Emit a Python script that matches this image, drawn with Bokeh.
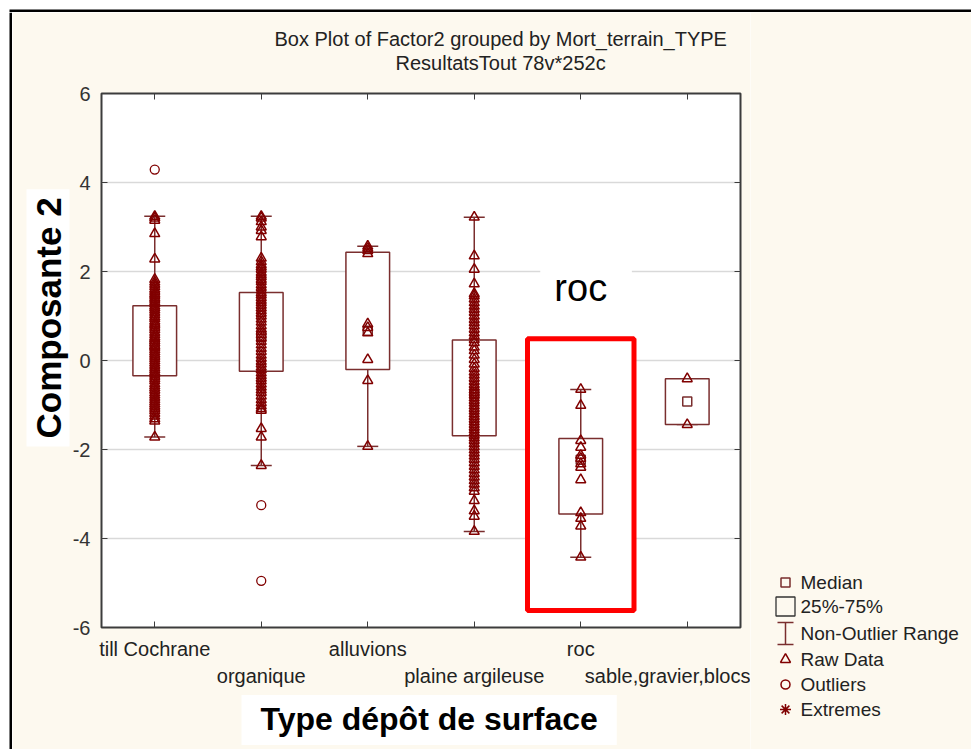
from bokeh.plotting import figure
from bokeh.models import (Range1d, FixedTicker, LinearAxis, Label, Title, ColumnDataSource)
from bokeh.layouts import row, column
from bokeh.core.properties import value
from bokeh.embed import file_html
from bokeh.resources import INLINE

# ---- data -------------------------------------------------------------
cats = ["till Cochrane", "organique", "alluvions", "plaine argileuse", "roc", "sable,gravier,blocs"]
q1 = [-0.34, -0.24, -0.20, -1.69, -3.45, -1.44]
q3 = [1.23, 1.53, 2.43, 0.46, -1.75, -0.41]
med = [0.35, 0.55, 0.67, -0.75, -2.23, -0.92]
whisk_lo = [-1.72, -2.36, -1.93, -3.84, -4.42, -1.44]
whisk_hi = [3.24, 3.24, 2.57, 3.22, -0.65, -0.41]

raw_till = [3.24, 3.2, 3.15, 2.85, 2.28, 1.82, 1.76, 1.71, 1.66, 1.6, 1.55, 1.5, 1.46, 1.41, 1.37,
            1.32, 1.27, 1.22, 1.18, 1.13, 1.08, 1.03, 0.98, 0.94, 0.88, 0.83, 0.79, 0.74, 0.69,
            0.63, 0.58, 0.53, 0.49, 0.44, 0.39, 0.33, 0.29, 0.24, 0.19, 0.14, 0.09, 0.04, -0.01,
            -0.06, -0.11, -0.16, -0.21, -0.26, -0.31, -0.36, -0.41, -0.46, -0.52, -0.57, -0.62,
            -0.67, -0.73, -0.78, -0.83, -0.88, -0.93, -0.98, -1.03, -1.08, -1.13, -1.19, -1.25,
            -1.31, -1.36, -1.72]
raw_organique = [3.24, 3.2, 3.12, 3.0, 2.92, 2.78, 2.3, 2.22, 2.15, 2.1, 2.05, 1.98, 1.93, 1.88,
                 1.82, 1.77, 1.7, 1.64, 1.58, 1.52, 1.47, 1.41, 1.35, 1.3, 1.24, 1.18, 1.12, 1.06,
                 1.0, 0.93, 0.86, 0.78, 0.71, 0.65, 0.58, 0.5, 0.43, 0.35, 0.27, 0.2, 0.12, 0.05,
                 -0.02, -0.08, -0.15, -0.21, -0.28, -0.34, -0.4, -0.46, -0.53, -0.6, -0.66, -0.72,
                 -0.8, -0.88, -0.95, -1.02, -1.08, -1.12, -1.53, -1.72, -2.36]
raw_alluvions = [2.57, 2.52, 2.47, 2.4, 0.82, 0.74, 0.62, 0.02, -0.45, -1.93]
raw_plaine = [3.22, 2.35, 2.05, 1.72, 1.5, 1.45, 1.38, 1.3, 1.22, 1.15, 1.08, 1.0, 0.92, 0.85,
              0.78, 0.7, 0.62, 0.55, 0.47, 0.4, 0.3, 0.22, 0.12, 0.02, -0.08, -0.18, -0.26, -0.33,
              -0.4, -0.47, -0.54, -0.6, -0.66, -0.72, -0.78, -0.84, -0.9, -0.96, -1.02, -1.08,
              -1.14, -1.2, -1.26, -1.32, -1.38, -1.44, -1.5, -1.56, -1.62, -1.68, -1.74, -1.8,
              -1.87, -1.94, -2.01, -2.08, -2.15, -2.22, -2.3, -2.38, -2.46, -2.54, -2.62, -2.7,
              -2.78, -2.86, -2.94, -3.15, -3.38, -3.5, -3.84]
raw_roc = [-0.65, -1.01, -1.8, -1.95, -2.13, -2.2, -2.32, -2.4, -2.68, -3.42, -3.55, -3.72, -4.42]
raw_sable = [-0.41, -1.44]
raw_values = [raw_till, raw_organique, raw_alluvions, raw_plaine, raw_roc, raw_sable]

outlier_group = [0, 1, 1]
outlier_vals = [4.29, -3.25, -4.95]

y_ticks = [-6, -4, -2, 0, 2, 4, 6]
legend_labels = ["Median", "25%-75%", "Non-Outlier Range", "Raw Data", "Outliers", "Extremes"]

# group centres on the x scale (one unit per group)
xpos = [i + 0.5 for i in range(len(cats))]

# ---- styling ------------------------------------------------------------
CREAM = "#fdf9ef"
MAROON = "#800000"
BOXLINE = "#7a2e2e"
FRAME = "#3c3c3c"
SANS = "'Liberation Sans', Arial, sans-serif"
TXT = "#222222"

# ---- main plot ------------------------------------------------------------
p = figure(width=738, height=737, x_range=Range1d(0, len(cats)), y_range=Range1d(-6, 6),
           output_backend="svg", toolbar_location=None,
           title_location=None, x_axis_location=None, y_axis_location=None,
           min_border_left=85, min_border_right=10, min_border_top=81, min_border_bottom=122)
p.frame_align = False
p.background_fill_color = "white"
p.border_fill_color = CREAM
p.outline_line_color = FRAME
p.outline_line_width = 2

p.xgrid.visible = False
p.ygrid.ticker = FixedTicker(ticks=[-4, -2, 0, 2, 4])
p.ygrid.grid_line_color = "#d9d9d9"
p.ygrid.grid_line_width = 1.5

tick_style = dict(major_tick_in=6, major_tick_out=0, minor_tick_line_color=None,
                  axis_line_color=FRAME, major_tick_line_color=FRAME, axis_label_standoff=0)

# left axis with hyphen-minus labels
yax = LinearAxis(ticker=FixedTicker(ticks=y_ticks),
                 major_label_overrides={t: str(t) for t in y_ticks},
                 major_label_text_font=SANS, major_label_text_font_size="20px",
                 major_label_text_color="#333333", major_label_standoff=11, **tick_style)
p.add_layout(yax, "left")
p.add_layout(Title(text="Composante 2", align="left", offset=181, standoff=0,
                   text_font=SANS, text_font_style="bold", text_font_size="35px",
                   text_color="black", background_fill_color="white",
                   padding=dict(left=8, right=8, top=2, bottom=2)), "left")

# right axis: ticks only
p.add_layout(LinearAxis(ticker=FixedTicker(ticks=y_ticks), major_label_text_font_size="0px",
                        major_label_standoff=0, **tick_style), "right")

# bottom: group names, every other one dropped to a second line
xlabels = {x: ("\n" + c if i % 2 else c) for i, (x, c) in enumerate(zip(xpos, cats))}
xax = LinearAxis(ticker=FixedTicker(ticks=xpos), major_label_overrides=xlabels,
                 major_label_text_font=SANS, major_label_text_font_size="20px",
                 major_label_text_color=TXT, major_label_standoff=10,
                 major_label_text_line_height=1.25, **tick_style)
p.add_layout(xax, "below")
p.add_layout(Title(text="Type dépôt de surface", align="left", offset=140, standoff=5,
                   text_font=SANS, text_font_style="bold", text_font_size="32px",
                   text_color="black", background_fill_color="white",
                   padding=dict(left=19, right=19, top=6, bottom=8)), "below")

# top: ticks only (blank labels keep some room), then the two title lines
p.add_layout(LinearAxis(ticker=FixedTicker(ticks=xpos),
                        major_label_overrides={x: " " for x in xpos},
                        major_label_text_font_size="16px", major_label_standoff=0,
                        **tick_style), "above")
p.add_layout(Title(text="ResultatsTout 78v*252c", align="left", offset=294, standoff=0,
                   text_font=SANS, text_font_size="20px", text_color=TXT,
                   text_font_style="normal"), "above")
p.add_layout(Title(text="Box Plot of Factor2 grouped by  Mort_terrain_TYPE", align="left",
                   offset=173, standoff=0, text_font=SANS, text_font_size="20px",
                   text_color=TXT, text_font_style="normal"), "above")

# highlighted group frame (around the "roc" group)
hl_group = cats.index("roc")
hl = dict(left=[hl_group], right=[hl_group + 1], top=[0.49], bottom=[-5.62])
p.quad(source=ColumnDataSource(hl), left="left", right="right", top="top", bottom="bottom",
       fill_color="white", line_color="#ff0000", line_width=5)
# white patch behind the group caption
p.quad(left=[hl_group + 0.12], right=[hl_group + 0.98], top=[2.3], bottom=[0.95],
       fill_color="white", line_color=None)

# whiskers
p.segment(x0=xpos, y0=whisk_lo, x1=xpos, y1=q1, line_color=BOXLINE, line_width=1.5)
p.segment(x0=xpos, y0=q3, x1=xpos, y1=whisk_hi, line_color=BOXLINE, line_width=1.5)
p.scatter(x=xpos, y=whisk_lo, marker="dash", size=21, line_color=BOXLINE, line_width=1.5)
p.scatter(x=xpos, y=whisk_hi, marker="dash", size=21, line_color=BOXLINE, line_width=1.5)

# boxes
p.vbar(x=xpos, bottom=q1, top=q3, width=0.41, fill_color="white", line_color=BOXLINE,
       line_width=1.5)
p.scatter(x=xpos, y=med, marker="square", size=9, fill_color="white", line_color=BOXLINE,
          line_width=1.5)

# raw data
rx, ry = [], []
for x, vals in zip(xpos, raw_values):
    rx += [x] * len(vals)
    ry += vals
p.scatter(x=rx, y=ry, marker="triangle", size=10, fill_color=None, line_color=MAROON,
          line_width=1.5)

# outliers
p.scatter(x=[xpos[g] for g in outlier_group], y=outlier_vals, marker="circle", size=9,
          fill_color=None, line_color=MAROON, line_width=1.3)

p.add_layout(Label(x=xpos[hl_group], y=1.62, text="roc", text_align="center",
                   text_baseline="middle", text_font=SANS, text_font_size="38px",
                   text_color="black"))

# ---- legend panel -----------------------------------------------------------
lg = figure(width=221, height=737, x_range=Range1d(0, 221), y_range=Range1d(737, 0),
            output_backend="svg", toolbar_location=None, min_border=0, title_location=None)
lg.frame_align = False
lg.axis.visible = False
lg.grid.visible = False
lg.outline_line_color = None
lg.background_fill_color = CREAM
lg.border_fill_color = CREAM

rows_y = [570, 594, 621, 647, 672, 697]
mx = 35
lg.scatter(x=[mx], y=[rows_y[0]], marker="square", size=9, fill_color=None,
           line_color=BOXLINE, line_width=1.5)
lg.scatter(x=[mx], y=[rows_y[1]], marker="square", size=19, fill_color=None,
           line_color="#333333", line_width=1.3)
lg.segment(x0=[mx], y0=[rows_y[2] - 11], x1=[mx], y1=[rows_y[2] + 11], line_color=BOXLINE,
           line_width=1.5)
lg.scatter(x=[mx, mx], y=[rows_y[2] - 11, rows_y[2] + 11], marker="dash", size=16,
           line_color=BOXLINE, line_width=1.5)
lg.scatter(x=[mx], y=[rows_y[3]], marker="triangle", size=10, fill_color=None,
           line_color=MAROON, line_width=1.5)
lg.scatter(x=[mx], y=[rows_y[4]], marker="circle", size=9, fill_color=None,
           line_color=MAROON, line_width=1.5)
lg.scatter(x=[mx], y=[rows_y[5]], marker="asterisk", size=11, line_color=MAROON,
           line_width=1.5)
lg.text(x=[50] * 6, y=rows_y, text=legend_labels, text_baseline="middle",
        text_font=value(SANS), text_font_size="19px", text_color=TXT)

# ---- outer frame strips -------------------------------------------------------
def strip(w, h, horizontal):
    s = figure(width=w, height=h, x_range=Range1d(0, w), y_range=Range1d(h, 0),
               output_backend="svg", toolbar_location=None, min_border=0, title_location=None)
    s.frame_align = False
    s.axis.visible = False
    s.grid.visible = False
    s.outline_line_color = None
    s.background_fill_color = "white"
    s.border_fill_color = "white"
    if horizontal:
        s.quad(left=[9], right=[w], top=[9], bottom=[12], fill_color="black", line_color=None)
    else:
        s.quad(left=[9], right=[12], top=[0], bottom=[h], fill_color="black", line_color=None)
    return s

top_strip = strip(971, 12, True)
left_strip = strip(12, 737, False)

layout = column(top_strip, row(left_strip, p, lg, spacing=0), spacing=0)
open("out.html", "w").write(file_html(layout, INLINE))
